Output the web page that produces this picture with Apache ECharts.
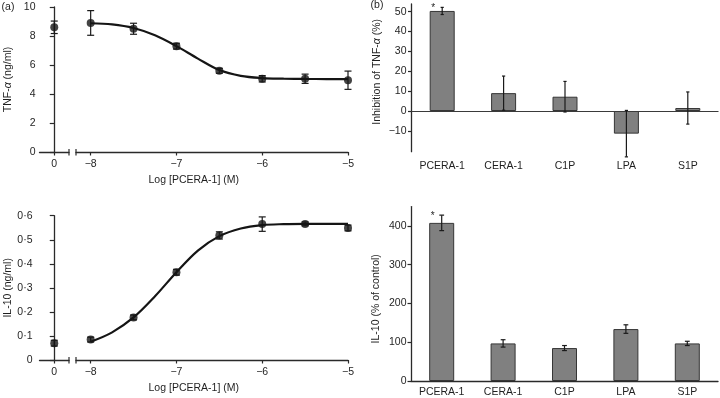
<!DOCTYPE html>
<html><head><meta charset="utf-8">
<script src="https://cdn.jsdelivr.net/npm/echarts@6/dist/echarts.min.js"></script>
<style>html,body{margin:0;padding:0;background:#fff}#c{width:720px;height:398px}</style>
</head><body><div id="c"></div>
<script>
// ---------- data ----------
const logDose = [-8, -7.5, -7, -6.5, -6, -5.5, -5];
const tnfMean = [8.9, 8.5, 7.3, 5.6, 5.05, 5.05, 4.95];
const tnfSem = [0.85, 0.38, 0.2, 0.17, 0.22, 0.32, 0.63];
const tnfControl = [8.6];
const tnfControlSem = [0.43];
const tnfFitX = [-8, -7.75, -7.5, -7.25, -7, -6.75, -6.5, -6.25, -6, -5.75, -5.5, -5.25, -5];
const tnfFitY = [8.88, 8.8, 8.55, 8.05, 7.3, 6.44, 5.65, 5.25, 5.1, 5.06, 5.04, 5.03, 5.02];

const il10Mean = [0.085, 0.177, 0.365, 0.518, 0.565, 0.566, 0.549];
const il10Sem = [0.01, 0.01, 0.012, 0.015, 0.03, 0.008, 0.012];
const il10Control = [0.07];
const il10ControlSem = [0.012];
const il10FitX = [-8, -7.75, -7.5, -7.25, -7, -6.75, -6.5, -6.25, -6, -5.75, -5.5, -5.25, -5];
const il10FitY = [0.076, 0.115, 0.177, 0.265, 0.365, 0.455, 0.515, 0.547, 0.561, 0.565, 0.566, 0.566, 0.566];

const agents = ['PCERA-1', 'CERA-1', 'C1P', 'LPA', 'S1P'];
const tnfInhib = [50.4, 9, 7.2, -11.4, 1.5];
const tnfInhibSem = [1.8, 8.6, 7.7, 11.7, 8.1];
const il10Pct = [408, 97, 85, 134, 97];
const il10PctSem = [20, 9.5, 6.5, 11, 5.5];
const significant = [1, 0, 0, 0, 0];

const controlTicks = [0];
const controlTickLabels = ['0'];
const doseTicks = [-8, -7, -6, -5];
const tnfTicks = [0, 2, 4, 6, 8, 10];
const il10Ticks = [0, 0.1, 0.2, 0.3, 0.4, 0.5, 0.6];
const inhibTicks = [-10, 0, 10, 20, 30, 40, 50];
const il10PctTicks = [0, 100, 200, 300, 400];

// ---------- styles ----------
const FONT = 'Liberation Sans, Arial, sans-serif';
const TXT = '#1f1f1f';
const AX = '#2a2a2a';
const FS = 10.5;
const lbl = (extra) => Object.assign({color: TXT, fontFamily: FONT, fontSize: FS}, extra || {});
const minusFmt = v => (v < 0 ? '\u2212' + Math.abs(v) : String(v));
const dotFmt = v => String(Math.round(v * 10) / 10).replace('.', '\u00b7');

function errRender(capHalf) {
  return function (params, api) {
    const x = api.value(0), m = api.value(1), e = api.value(2), sig = api.value(3);
    const top = api.coord([x, m + e]);
    const bot = api.coord([x, m - e]);
    const style = {stroke: '#1a1a1a', lineWidth: 1.2};
    const ch = [
      {type: 'line', shape: {x1: top[0], y1: top[1], x2: bot[0], y2: bot[1]}, style},
      {type: 'line', shape: {x1: top[0] - capHalf, y1: top[1], x2: top[0] + capHalf, y2: top[1]}, style},
      {type: 'line', shape: {x1: bot[0] - capHalf, y1: bot[1], x2: bot[0] + capHalf, y2: bot[1]}, style}
    ];
    if (sig === 1) {
      ch.push({type: 'text', x: top[0] - 9, y: top[1] + 1,
        style: {text: '*', align: 'center', verticalAlign: 'middle', fontSize: 10, fontFamily: FONT, fill: TXT}});
    }
    return {type: 'group', children: ch};
  };
}

function zipErr(xs, ms, es, sig) {
  return xs.map((x, i) => [x, ms[i], es[i], sig ? sig[i] : 0]);
}

const grids = [
  {left: 39.5, top: 7, width: 29.5, height: 145},
  {left: 76, top: 7, width: 272, height: 145},
  {left: 39.5, top: 215.7, width: 29.5, height: 144.3},
  {left: 76, top: 215.7, width: 272, height: 144.3},
  {left: 411.5, top: 4, width: 307, height: 147.7},
  {left: 411, top: 206.6, width: 307, height: 174.4}
];

function ctrlX(gi) {
  return {type: 'value', gridIndex: gi, min: -1, max: 1,
    axisLine: {show: true, lineStyle: {color: AX, width: 1.3}},
    axisTick: {show: true, length: 3.5, customValues: controlTicks, lineStyle: {color: AX, width: 1.2}},
    axisLabel: Object.assign(lbl({margin: 7}), {customValues: controlTicks, formatter: v => controlTickLabels[controlTicks.indexOf(v)]}),
    splitLine: {show: false}};
}
function doseX(gi) {
  return {type: 'value', gridIndex: gi, min: -8.171, max: -5,
    axisLine: {show: true, lineStyle: {color: AX, width: 1.3}},
    axisTick: {show: true, length: 3.5, customValues: doseTicks, lineStyle: {color: AX, width: 1.2}},
    axisLabel: Object.assign(lbl({margin: 7}), {customValues: doseTicks, formatter: minusFmt}),
    splitLine: {show: false}};
}

const option = {
  animation: false,
  backgroundColor: '#fff',
  grid: grids,
  xAxis: [
    ctrlX(0), doseX(1), ctrlX(2), doseX(3),
    {type: 'category', gridIndex: 4, data: agents,
      axisLine: {show: false, onZero: false}, axisTick: {show: false},
      axisLabel: lbl({margin: 9})},
    {type: 'category', gridIndex: 5, data: agents,
      axisLine: {show: true, onZero: false, lineStyle: {color: AX, width: 1.3}}, axisTick: {show: false},
      axisLabel: lbl({margin: 6})}
  ],
  yAxis: [
    {type: 'value', gridIndex: 0, min: 0, max: 10, interval: 2,
      name: 'TNF-{i|\u03b1} (ng/ml)', nameLocation: 'middle', nameGap: 26,
      nameTextStyle: lbl({rich: {i: {fontStyle: 'italic', fontSize: FS, fontFamily: FONT, color: TXT}}}),
      axisLine: {show: true, lineStyle: {color: AX, width: 1.3}},
      axisTick: {show: true, length: 4.5, lineStyle: {color: AX, width: 1.2}},
      axisLabel: lbl({margin: 4}), splitLine: {show: false}},
    {type: 'value', gridIndex: 1, min: 0, max: 10, show: false, splitLine: {show: false}},
    {type: 'value', gridIndex: 2, min: 0, max: 0.6, interval: 0.1,
      name: 'IL-10 (ng/ml)', nameLocation: 'middle', nameGap: 26,
      nameTextStyle: lbl(),
      axisLine: {show: true, lineStyle: {color: AX, width: 1.3}},
      axisTick: {show: true, length: 4.5, lineStyle: {color: AX, width: 1.2}},
      axisLabel: Object.assign(lbl({margin: 7}), {formatter: dotFmt}), splitLine: {show: false}},
    {type: 'value', gridIndex: 3, min: 0, max: 0.6, show: false, splitLine: {show: false}},
    {type: 'value', gridIndex: 4, min: -20.5, max: 53.9,
      name: 'Inhibition of TNF-{i|\u03b1} (%)', nameLocation: 'middle', nameGap: 29,
      nameTextStyle: lbl({padding: [0, 0, 0, 12], rich: {i: {fontStyle: 'italic', fontSize: FS, fontFamily: FONT, color: TXT}}}),
      axisLine: {show: true, onZero: false, lineStyle: {color: AX, width: 1.3}},
      axisTick: {show: true, length: 3.5, customValues: inhibTicks, lineStyle: {color: AX, width: 1.2}},
      axisLabel: Object.assign(lbl({margin: 5}), {customValues: inhibTicks, formatter: minusFmt}),
      splitLine: {show: false}},
    {type: 'value', gridIndex: 5, min: 0, max: 450,
      name: 'IL-10 (% of control)', nameLocation: 'middle', nameGap: 29,
      nameTextStyle: lbl({padding: [0, 10, 0, 0]}),
      axisLine: {show: true, lineStyle: {color: AX, width: 1.3}},
      axisTick: {show: true, length: 3.5, customValues: il10PctTicks, lineStyle: {color: AX, width: 1.2}},
      axisLabel: Object.assign(lbl({margin: 4.5}), {customValues: il10PctTicks}),
      splitLine: {show: false}}
  ],
  series: [
    // top-left
    {type: 'custom', xAxisIndex: 0, yAxisIndex: 0, renderItem: errRender(3.5), z: 3,
      data: zipErr(controlTicks, tnfControl, tnfControlSem)},
    {type: 'scatter', xAxisIndex: 0, yAxisIndex: 0, symbol: 'circle', symbolSize: 8, z: 4,
      itemStyle: {color: '#151515'}, data: controlTicks.map((x, i) => [x, tnfControl[i]])},
    {type: 'line', xAxisIndex: 1, yAxisIndex: 1, smooth: 0.35, showSymbol: false, symbol: 'none', z: 2,
      lineStyle: {color: '#151515', width: 2.2}, data: tnfFitX.map((x, i) => [x, tnfFitY[i]])},
    {type: 'custom', xAxisIndex: 1, yAxisIndex: 1, renderItem: errRender(3.5), z: 3,
      data: zipErr(logDose, tnfMean, tnfSem)},
    {type: 'scatter', xAxisIndex: 1, yAxisIndex: 1, symbol: 'circle', symbolSize: 8, z: 4,
      itemStyle: {color: '#151515'}, data: logDose.map((x, i) => [x, tnfMean[i]])},
    // bottom-left
    {type: 'custom', xAxisIndex: 2, yAxisIndex: 2, renderItem: errRender(3.5), z: 3,
      data: zipErr(controlTicks, il10Control, il10ControlSem)},
    {type: 'scatter', xAxisIndex: 2, yAxisIndex: 2, symbol: 'circle', symbolSize: 8, z: 4,
      itemStyle: {color: '#151515'}, data: controlTicks.map((x, i) => [x, il10Control[i]])},
    {type: 'line', xAxisIndex: 3, yAxisIndex: 3, smooth: 0.35, showSymbol: false, symbol: 'none', z: 2,
      lineStyle: {color: '#151515', width: 2.2}, data: il10FitX.map((x, i) => [x, il10FitY[i]])},
    {type: 'custom', xAxisIndex: 3, yAxisIndex: 3, renderItem: errRender(3.5), z: 3,
      data: zipErr(logDose, il10Mean, il10Sem)},
    {type: 'scatter', xAxisIndex: 3, yAxisIndex: 3, symbol: 'circle', symbolSize: 8, z: 4,
      itemStyle: {color: '#151515'}, data: logDose.map((x, i) => [x, il10Mean[i]])},
    // top-right
    {type: 'bar', xAxisIndex: 4, yAxisIndex: 4, barWidth: 25, z: 2,
      itemStyle: {color: '#808080', borderColor: '#363636', borderWidth: 1},
      data: tnfInhib,
      markLine: {silent: true, symbol: 'none', label: {show: false},
        lineStyle: {color: '#3a3a3a', type: 'solid', width: 1.2}, data: [{yAxis: 0}]}},
    {type: 'custom', xAxisIndex: 4, yAxisIndex: 4, renderItem: errRender(1.6), z: 5,
      data: zipErr(agents.map((a, i) => i), tnfInhib, tnfInhibSem, significant)},
    // bottom-right
    {type: 'bar', xAxisIndex: 5, yAxisIndex: 5, barWidth: 25, z: 2,
      itemStyle: {color: '#808080', borderColor: '#363636', borderWidth: 1},
      data: il10Pct},
    {type: 'custom', xAxisIndex: 5, yAxisIndex: 5, renderItem: errRender(2.4), z: 5,
      data: zipErr(agents.map((a, i) => i), il10Pct, il10PctSem, significant)}
  ]
};

const chart = echarts.init(document.getElementById('c'), null, {renderer: 'canvas'});
chart.setOption(option);

// axis-break marks and panel texts
function breakMarks(gA, gB) {
  const a = chart.convertToPixel({xAxisIndex: gA, yAxisIndex: gA}, [1, 0]);
  const b = chart.convertToPixel({xAxisIndex: gB, yAxisIndex: gB}, [-8.171, 0]);
  const st = {stroke: AX, lineWidth: 1.2};
  return [
    {type: 'line', shape: {x1: a[0], y1: a[1] - 3, x2: a[0], y2: a[1] + 3.5}, style: st},
    {type: 'line', shape: {x1: b[0], y1: b[1] - 3, x2: b[0], y2: b[1] + 3.5}, style: st}
  ];
}
const pA = chart.convertToPixel({xAxisIndex: 0, yAxisIndex: 0}, [-1, 0]);
const pB = chart.convertToPixel({xAxisIndex: 1, yAxisIndex: 1}, [-5, 0]);
const pA2 = chart.convertToPixel({xAxisIndex: 2, yAxisIndex: 2}, [-1, 0]);
const midX = (pA[0] + pB[0]) / 2;
const tstyle = (t) => ({text: t, fill: TXT, fontSize: FS, fontFamily: FONT, align: 'center', verticalAlign: 'middle'});
chart.setOption({
  graphic: [
    ...breakMarks(0, 1), ...breakMarks(2, 3),
    {type: 'text', x: midX, y: pA[1] + 28, style: tstyle('Log [PCERA-1] (M)')},
    {type: 'text', x: midX, y: pA2[1] + 28, style: tstyle('Log [PCERA-1] (M)')},
    {type: 'text', x: 8, y: 7, style: tstyle('(a)')},
    {type: 'text', x: 377, y: 5, style: tstyle('(b)')}
  ]
});
</script>
</body></html>
